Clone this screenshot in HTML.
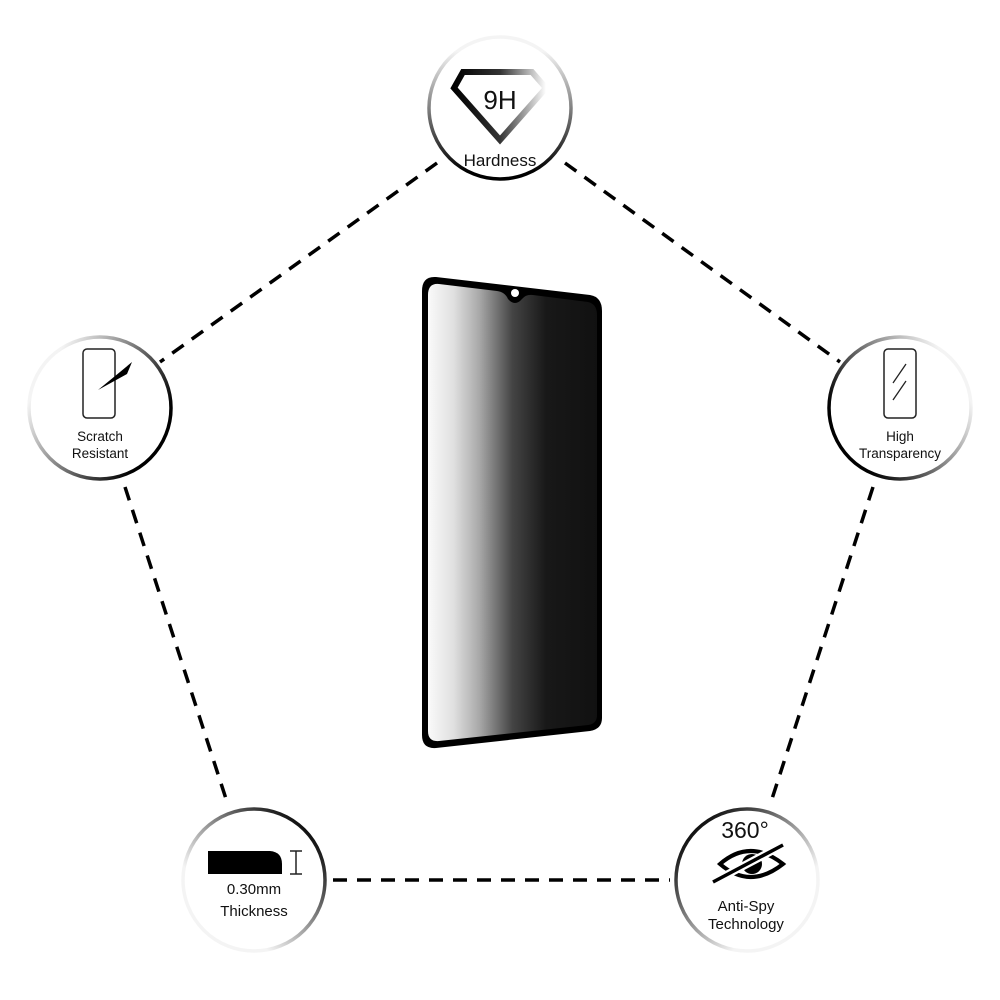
<!DOCTYPE html>
<html><head><meta charset="utf-8"><style>
html,body{margin:0;padding:0;background:#fff;}
svg{display:block;}
text{font-family:"Liberation Sans",sans-serif;fill:#111;text-anchor:middle;}
</style></head><body>
<svg width="1000" height="1000" viewBox="0 0 1000 1000" xmlns="http://www.w3.org/2000/svg">
<defs>
<linearGradient id="gTop" x1="0" y1="0" x2="0" y2="1"><stop offset="0.1" stop-color="#f4f4f4"/><stop offset="0.95" stop-color="#000"/></linearGradient>
<linearGradient id="gL" x1="0" y1="0" x2="1" y2="0.6"><stop offset="0.2" stop-color="#f4f4f4"/><stop offset="0.95" stop-color="#000"/></linearGradient>
<linearGradient id="gR" x1="1" y1="0" x2="0" y2="0.6"><stop offset="0.2" stop-color="#f4f4f4"/><stop offset="0.95" stop-color="#000"/></linearGradient>
<linearGradient id="gBL" x1="0" y1="1" x2="1" y2="0"><stop offset="0.3" stop-color="#f4f4f4"/><stop offset="0.9" stop-color="#000"/></linearGradient>
<linearGradient id="gBR" x1="1" y1="1" x2="0" y2="0"><stop offset="0.3" stop-color="#f4f4f4"/><stop offset="0.9" stop-color="#000"/></linearGradient>
<linearGradient id="gDia" x1="0" y1="0" x2="1" y2="0"><stop offset="0" stop-color="#000"/><stop offset="0.5" stop-color="#333"/><stop offset="1" stop-color="#fff"/></linearGradient>
<linearGradient id="gScr" x1="0" y1="0" x2="1" y2="0"><stop offset="0" stop-color="#fafafa"/><stop offset="0.15" stop-color="#e0e0e0"/><stop offset="0.3" stop-color="#aaa"/><stop offset="0.5" stop-color="#444"/><stop offset="0.7" stop-color="#181818"/><stop offset="1" stop-color="#111"/></linearGradient>
</defs>

<g stroke="#000" stroke-width="3.5" stroke-dasharray="14,10" fill="none">
<line x1="437" y1="163" x2="160" y2="362"/>
<line x1="565" y1="163" x2="840" y2="362"/>
<line x1="125" y1="487" x2="228" y2="805"/>
<line x1="873" y1="487" x2="770" y2="805"/>
<line x1="333" y1="880" x2="670" y2="880"/>
</g>

<g fill="#fff" stroke-width="3.5">
<circle cx="500" cy="108" r="71" stroke="url(#gTop)"/>
<circle cx="100" cy="408" r="71" stroke="url(#gL)"/>
<circle cx="900" cy="408" r="71" stroke="url(#gR)"/>
<circle cx="254" cy="880" r="71" stroke="url(#gBL)"/>
<circle cx="747" cy="880" r="71" stroke="url(#gBR)"/>
</g>

<path d="M463,72 L532,72 L546,88 L500,140 L454,88 Z" fill="none" stroke="url(#gDia)" stroke-width="6"/>
<text x="500" y="109" font-size="26">9H</text>
<text x="500" y="166" font-size="17">Hardness</text>

<rect x="83" y="349" width="32" height="69" rx="4" fill="none" stroke="#222" stroke-width="1.5"/>
<path d="M98,390 L120,372 L132,362 L127,374 Z" fill="#000"/>
<text x="100" y="441" font-size="13.5">Scratch</text>
<text x="100" y="458" font-size="13.5">Resistant</text>

<rect x="884" y="349" width="32" height="69" rx="4" fill="none" stroke="#222" stroke-width="1.5"/>
<line x1="893" y1="383" x2="906" y2="364" stroke="#222" stroke-width="1.3"/>
<line x1="893" y1="400" x2="906" y2="381" stroke="#222" stroke-width="1.3"/>
<text x="900" y="441" font-size="13.5">High</text>
<text x="900" y="458" font-size="13.5">Transparency</text>

<path d="M208,851 L270,851 Q282,852 282,864 L282,874 L208,874 Z" fill="#000"/>
<g stroke="#222" stroke-width="1.5"><line x1="296" y1="851" x2="296" y2="874"/><line x1="290" y1="851" x2="302" y2="851"/><line x1="290" y1="874" x2="302" y2="874"/></g>
<text x="254" y="894" font-size="15">0.30mm</text>
<text x="254" y="916" font-size="15">Thickness</text>

<text x="745" y="838" font-size="23">360°</text>
<path d="M720,864 Q750,838 783,864 Q750,890 720,864 Z" fill="none" stroke="#000" stroke-width="4"/>
<circle cx="752" cy="864" r="10" fill="#000"/>
<line x1="713" y1="882" x2="783" y2="845" stroke="#fff" stroke-width="8"/>
<line x1="713" y1="882" x2="783" y2="845" stroke="#000" stroke-width="3.5"/>
<text x="746" y="911" font-size="15">Anti-Spy</text>
<text x="746" y="929" font-size="15">Technology</text>

<path d="M436,277 L590,295 Q602,297 602,311 L602,718 Q602,729 590,731 L436,748 Q422,749 422,735 L422,291 Q422,276 436,277 Z" fill="#000"/>
<path d="M439,284 L497,291 Q505,292 508,299 Q515,307 522,299 Q526,294 533,295 L588,302 Q597,304 597,315 L597,715 Q597,724 588,725 L439,741 Q428,742 428,731 L428,295 Q428,283 439,284 Z" fill="url(#gScr)"/>
<circle cx="515" cy="293" r="4" fill="#fff"/>
</svg>
</body></html>
